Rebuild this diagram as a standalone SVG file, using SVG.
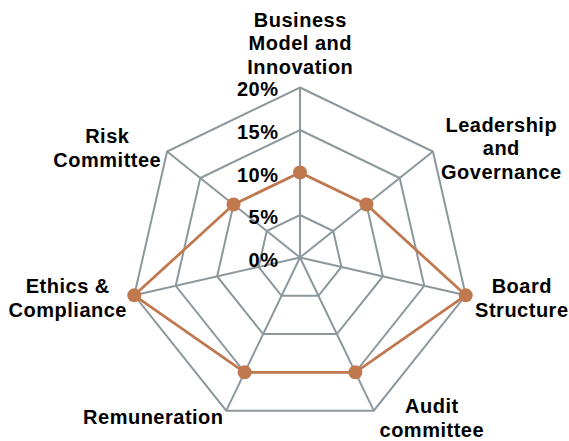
<svg xmlns="http://www.w3.org/2000/svg" width="569" height="441" viewBox="0 0 569 441">
<style>
.grid{fill:none;stroke:#8d989d;stroke-width:2}
.series{fill:none;stroke:#c0784f;stroke-width:2.75;stroke-linejoin:round}
.pt{fill:#c0784f}
text{font-family:"Liberation Sans",Arial,sans-serif;font-weight:bold;font-size:20px;fill:#000;letter-spacing:0.5px}
.c{text-anchor:middle}
.e{text-anchor:end}
</style>
<rect width="569" height="441" fill="#fff"/>
<g id="grid">
<polygon class="grid" points="300,87.5 432.91,151.51 465.74,295.33 373.76,410.66 226.24,410.66 134.26,295.33 167.09,151.51"/>
<polygon class="grid" points="300,130 399.68,178.01 424.30,285.87 355.32,372.37 244.68,372.37 175.70,285.87 200.32,178.01"/>
<polygon class="grid" points="300,172.5 366.46,204.50 382.87,276.41 336.88,334.08 263.12,334.08 217.13,276.41 233.54,204.50"/>
<polygon class="grid" points="300,215 333.23,231.00 341.43,266.96 318.44,295.79 281.56,295.79 258.57,266.96 266.77,231.00"/>
<path class="grid" d="M300,257.5L300,87.5M300,257.5L432.91,151.51M300,257.5L465.74,295.33M300,257.5L373.76,410.66M300,257.5L226.24,410.66M300,257.5L134.26,295.33M300,257.5L167.09,151.51"/>
</g>
<g id="axis-labels">
<text class="e" x="278.5" y="96">20%</text>
<text class="e" x="278.5" y="139">15%</text>
<text class="e" x="278.5" y="181.5">10%</text>
<text class="e" x="278.5" y="224">5%</text>
<text class="e" x="278.5" y="266.5">0%</text>
</g>
<g id="series">
<polygon class="series" points="300,172.5 366.46,204.50 465.74,295.33 355.32,372.37 244.68,372.37 134.26,295.33 233.54,204.50"/>
<circle class="pt" cx="300" cy="172.5" r="7"/>
<circle class="pt" cx="366.46" cy="204.5" r="7"/>
<circle class="pt" cx="465.74" cy="295.33" r="7"/>
<circle class="pt" cx="355.32" cy="372.37" r="7"/>
<circle class="pt" cx="244.68" cy="372.37" r="7"/>
<circle class="pt" cx="134.26" cy="295.33" r="7"/>
<circle class="pt" cx="233.54" cy="204.5" r="7"/>
</g>
<g id="node-business">
<text class="c" x="300.3" y="26.5">Business</text>
<text class="c" x="300.3" y="50">Model and</text>
<text class="c" x="300.3" y="73.5">Innovation</text>
</g>
<g id="node-leadership">
<text class="c" x="501.3" y="131.5">Leadership</text>
<text class="c" x="501.3" y="155">and</text>
<text class="c" x="501.3" y="178.5">Governance</text>
</g>
<g id="node-board">
<text class="c" x="521.8" y="293">Board</text>
<text class="c" x="521.8" y="316.5">Structure</text>
</g>
<g id="node-audit">
<text class="c" x="431.8" y="413">Audit</text>
<text class="c" x="431.8" y="436.5">committee</text>
</g>
<g id="node-remuneration">
<text class="c" x="153.3" y="423.5">Remuneration</text>
</g>
<g id="node-ethics">
<text class="c" x="67.8" y="293">Ethics &amp;</text>
<text class="c" x="67.8" y="316.5">Compliance</text>
</g>
<g id="node-risk">
<text class="c" x="107.3" y="143">Risk</text>
<text class="c" x="107.3" y="166.5">Committee</text>
</g>
</svg>
